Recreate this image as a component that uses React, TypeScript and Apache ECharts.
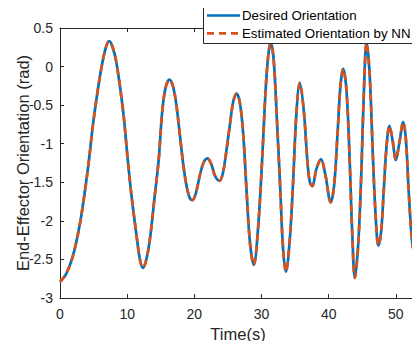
import React, { useEffect, useRef } from "react";
import * as echarts from "echarts";

const timeS: number[] = [
  0, 0.9, 1.9, 2.9, 3.7, 4.3, 4.9, 5.6, 6.2, 6.8, 7.3, 7.8, 8.4, 9.4, 10.1, 10.6, 11.35, 11.9, 12.35, 12.8,
  13.35, 14.1, 14.7, 15.2, 15.7, 16.3, 16.8, 17.3, 17.8, 18.35, 18.85, 19.3, 19.7, 20.2, 20.9, 21.4, 21.95,
  22.5, 23.1, 23.75, 24.2, 24.6, 25.3, 25.8, 26.3, 26.8, 27.3, 27.8, 28.3, 28.85, 29.5, 30.1, 30.6, 31.0,
  31.35, 31.8, 32.3, 32.8, 33.2, 33.63, 34.2, 34.7, 35.2, 35.7, 36.3, 36.85, 37.2, 37.55, 38.2, 38.85, 39.5,
  40.3, 40.8, 41.3, 41.75, 42.16, 42.66, 43.15, 43.5, 43.9, 44.4, 44.85, 45.25, 45.64, 46.1, 46.6, 47.0,
  47.4, 47.8, 48.2, 48.6, 49.05, 49.5, 50.0, 50.5, 51.1, 51.5, 51.9, 52.3, 52.6, 52.8, 53.0,
];

const desiredOrientation: number[] = [
  -2.79, -2.69, -2.46, -2.07, -1.62, -1.22, -0.76, -0.32, 0.0, 0.24, 0.33, 0.26, 0.05, -0.58, -1.22, -1.64,
  -2.16, -2.5, -2.61, -2.52, -2.26, -1.68, -1.2, -0.6, -0.28, -0.17, -0.25, -0.48, -0.85, -1.27, -1.55, -1.7,
  -1.73, -1.65, -1.38, -1.24, -1.19, -1.26, -1.42, -1.48, -1.4, -1.2, -0.75, -0.45, -0.35, -0.48, -0.9,
  -1.65, -2.3, -2.57, -2.08, -1.2, -0.32, 0.14, 0.31, 0.1, -0.7, -1.6, -2.35, -2.66, -2.25, -1.5, -0.6,
  -0.21, -0.58, -1.25, -1.5, -1.55, -1.32, -1.2, -1.4, -1.76, -1.55, -0.9, -0.25, -0.03, -0.32, -1.27,
  -2.15, -2.74, -2.3, -1.4, -0.3, 0.31, -0.1, -1.2, -1.95, -2.32, -2.15, -1.6, -1.05, -0.77, -0.95, -1.21,
  -1.0, -0.72, -0.95, -1.6, -2.15, -2.37, -2.3, -1.95,
];

const estimatedOrientation: number[] = [
  -2.79, -2.69, -2.46, -2.07, -1.62, -1.22, -0.76, -0.32, 0.0, 0.24, 0.33, 0.26, 0.05, -0.58, -1.22, -1.64,
  -2.16, -2.5, -2.61, -2.52, -2.26, -1.68, -1.2, -0.6, -0.28, -0.17, -0.25, -0.48, -0.85, -1.27, -1.55, -1.7,
  -1.73, -1.65, -1.38, -1.24, -1.19, -1.26, -1.42, -1.48, -1.4, -1.2, -0.75, -0.45, -0.35, -0.48, -0.9,
  -1.65, -2.3, -2.57, -2.08, -1.2, -0.32, 0.14, 0.31, 0.1, -0.7, -1.6, -2.35, -2.66, -2.25, -1.5, -0.6,
  -0.21, -0.58, -1.25, -1.5, -1.55, -1.32, -1.2, -1.4, -1.76, -1.55, -0.9, -0.25, -0.03, -0.32, -1.27,
  -2.15, -2.74, -2.3, -1.4, -0.3, 0.31, -0.1, -1.2, -1.95, -2.32, -2.15, -1.6, -1.05, -0.77, -0.95, -1.21,
  -1.0, -0.72, -0.95, -1.6, -2.15, -2.37, -2.3, -1.95,
];

const seriesNames: string[] = ["Desired Orientation", "Estimated Orientation by NN"];
const xLabelTicks: number[] = [0, 10, 20, 30, 40, 50];

const FONT = "'Liberation Sans', Arial, Helvetica, sans-serif";
const AXIS_COLOR = "#262626";
const BLUE = "#0072BD";
const ORANGE = "#D95319";
const LINE_W = 2.7;
const DASH = [7, 5];

export default function App() {
  const ref = useRef<HTMLDivElement>(null);

  useEffect(() => {
    if (!ref.current) return;
    const chart = echarts.init(ref.current, undefined, { renderer: "svg" });

    const desiredData = timeS.map((t, i) => [t, desiredOrientation[i]]);
    const estimatedData = timeS.map((t, i) => [t, estimatedOrientation[i]]);

    const axisLineStyle = { show: true, onZero: false, lineStyle: { color: AXIS_COLOR, width: 1 } };
    const tickStyle = { show: true, inside: true, length: 4, lineStyle: { color: AXIS_COLOR, width: 1 } };

    const lgX = 203, lgY = 5, lgW = 215, lgH = 38;
    const row1 = 15.5, row2 = 33.3;
    const legendFont = `13.3px ${FONT}`;
    const legendGraphic = [
      {
        type: "rect",
        shape: { x: lgX + 0.5, y: lgY + 0.5, width: lgW, height: lgH },
        style: { fill: "#ffffff", stroke: AXIS_COLOR, lineWidth: 1 },
        z: 100,
      },
      {
        type: "line",
        shape: { x1: 207, y1: row1, x2: 240, y2: row1 },
        style: { stroke: BLUE, lineWidth: LINE_W },
        z: 101,
      },
      {
        type: "line",
        shape: { x1: 207, y1: row2, x2: 240, y2: row2 },
        style: { stroke: ORANGE, lineWidth: LINE_W, lineDash: DASH },
        z: 101,
      },
      {
        type: "text",
        x: 242,
        y: row1,
        style: { text: seriesNames[0], fill: "#000000", font: legendFont, verticalAlign: "middle" },
        z: 101,
      },
      {
        type: "text",
        x: 242,
        y: row2,
        style: { text: seriesNames[1], fill: "#000000", font: legendFont, verticalAlign: "middle" },
        z: 101,
      },
    ];

    const option: any = {
      animation: false,
      backgroundColor: "#ffffff",
      grid: { left: 60, right: 4, top: 28, bottom: 51, containLabel: false, outerBoundsMode: "none" },
      graphic: legendGraphic,
      xAxis: [
        {
          type: "value",
          position: "bottom",
          min: 0,
          max: 53,
          interval: 10,
          axisLine: axisLineStyle,
          axisTick: tickStyle,
          splitLine: { show: false },
          axisLabel: {
            color: AXIS_COLOR,
            fontFamily: FONT,
            fontSize: 14,
            margin: 9,
            formatter: (v: number) => (xLabelTicks.indexOf(v) >= 0 ? String(v) : ""),
          },
          name: "Time(s)",
          nameLocation: "middle",
          nameGap: 27,
          nameMoveOverlap: false,
          nameTextStyle: { color: AXIS_COLOR, fontFamily: FONT, fontSize: 16.5 },
        },
        {
          type: "value",
          position: "top",
          min: 0,
          max: 53,
          interval: 10,
          axisLine: axisLineStyle,
          axisTick: tickStyle,
          splitLine: { show: false },
          axisLabel: { show: false },
        },
      ],
      yAxis: [
        {
          type: "value",
          position: "left",
          min: -3,
          max: 0.5,
          interval: 0.5,
          axisLine: axisLineStyle,
          axisTick: tickStyle,
          splitLine: { show: false },
          axisLabel: {
            color: AXIS_COLOR,
            fontFamily: FONT,
            fontSize: 14,
            margin: 7,
            formatter: (v: number) => String(v),
          },
          name: "End-Effector Orientation (rad)",
          nameLocation: "middle",
          nameGap: 29,
          nameRotate: 90,
          nameMoveOverlap: false,
          nameTextStyle: { color: AXIS_COLOR, fontFamily: FONT, fontSize: 16.5 },
        },
        {
          type: "value",
          position: "right",
          min: -3,
          max: 0.5,
          interval: 0.5,
          axisLine: axisLineStyle,
          axisTick: tickStyle,
          splitLine: { show: false },
          axisLabel: { show: false },
        },
      ],
      series: [
        {
          name: seriesNames[0],
          type: "line",
          xAxisIndex: 0,
          yAxisIndex: 0,
          data: desiredData,
          showSymbol: false,
          symbol: "none",
          smooth: 0.35,
          lineStyle: { color: BLUE, width: LINE_W, type: "solid" },
          itemStyle: { color: BLUE },
          z: 2,
        },
        {
          name: seriesNames[1],
          type: "line",
          xAxisIndex: 0,
          yAxisIndex: 0,
          data: estimatedData,
          showSymbol: false,
          symbol: "none",
          smooth: 0.35,
          lineStyle: { color: ORANGE, width: LINE_W, type: DASH },
          itemStyle: { color: ORANGE },
          z: 3,
        },
      ],
    };

    chart.setOption(option);
    return () => chart.dispose();
  }, []);

  return <div ref={ref} style={{ width: 420, height: 349, margin: -8 }} />;
}
